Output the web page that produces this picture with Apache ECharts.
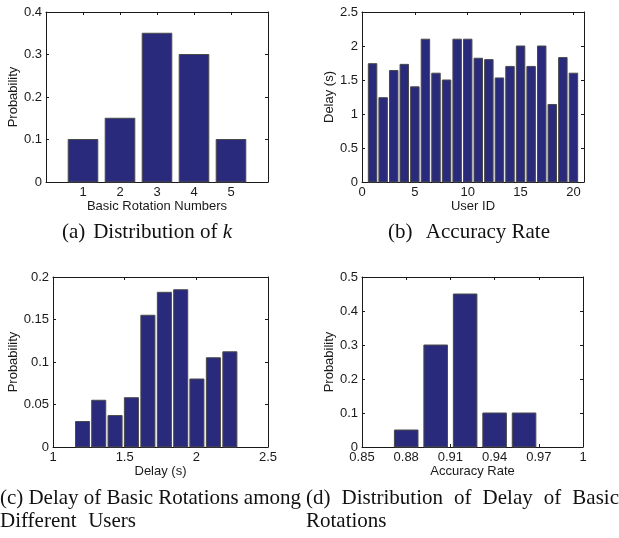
<!DOCTYPE html>
<html>
<head>
<meta charset="utf-8">
<script src="https://cdn.jsdelivr.net/npm/echarts@6/dist/echarts.min.js"></script>
<style>
	html, body { margin: 0; padding: 0; background: #fff; }
	#main { width: 619px; height: 538px; }
</style>
</head>
<body>
<div id="main"></div>
<script>
	// (a) distribution of k
	var rotationNumbers = [1, 2, 3, 4, 5];
	var rotationProb = [0.10, 0.15, 0.35, 0.30, 0.10];
	var rotationTicks = [1, 2, 3, 4, 5];
	// (b) delay per user
	var userIds = [1, 2, 3, 4, 5, 6, 7, 8, 9, 10, 11, 12, 13, 14, 15, 16, 17, 18, 19, 20];
	var userDelay = [1.74, 1.24, 1.64, 1.73, 1.40, 2.10, 1.60, 1.50, 2.10, 2.10,
		1.82, 1.80, 1.53, 1.70, 2.00, 1.70, 2.00, 1.14, 1.83, 1.60];
	var userTicks = [0, 5, 10, 15, 20];
	// (c) delay histogram
	var delayBins = [1.206, 1.319, 1.433, 1.547, 1.662, 1.777, 1.891, 2.004, 2.119, 2.234];
	var delayProb = [0.030, 0.055, 0.037, 0.058, 0.155, 0.182, 0.185, 0.080, 0.105, 0.112];
	// (d) accuracy histogram
	var accuracyBins = [0.88, 0.90, 0.92, 0.94, 0.96];
	var accuracyProb = [0.05, 0.30, 0.45, 0.10, 0.10];
	var accuracyTicks = [0.85, 0.88, 0.91, 0.94, 0.97, 1];

	var axisFont = 'Liberation Sans';
	var capFont = 'Liberation Serif';
	var capSize = 21;
	var ink = '#1a1a1a';
	var barFill = '#2a2a7d';

	function zip(xs, ys) {
		return xs.map(function(x, i) { return [x, ys[i]]; });
	}

	var panels = [
		{ grid: { left: 46, top: 12, width: 222, height: 170 },
		  x: { min: 0, max: 6, ticks: rotationTicks, name: 'Basic Rotation Numbers' },
		  y: { min: 0, max: 0.4, interval: 0.1, name: 'Probability', nameGap: 21 },
		  data: zip(rotationNumbers, rotationProb), barWidth: 0.8 },
		{ grid: { left: 362, top: 12, width: 222, height: 170 },
		  x: { min: 0, max: 21, ticks: userTicks, name: 'User ID' },
		  y: { min: 0, max: 2.5, interval: 0.5, name: 'Delay (s)', nameGap: 21 },
		  data: zip(userIds, userDelay), barWidth: 0.8 },
		{ grid: { left: 53, top: 277, width: 215, height: 170 },
		  x: { min: 1, max: 2.5, interval: 0.5, name: 'Delay (s)' },
		  y: { min: 0, max: 0.2, interval: 0.05, name: 'Probability', nameGap: 28 },
		  data: zip(delayBins, delayProb), barWidth: 0.098 },
		{ grid: { left: 362, top: 277, width: 221, height: 170 },
		  x: { min: 0.85, max: 1, ticks: accuracyTicks, name: 'Accuracy Rate' },
		  y: { min: 0, max: 0.5, interval: 0.1, name: 'Probability', nameGap: 21 },
		  data: zip(accuracyBins, accuracyProb), barWidth: 0.016 }
	];

	function axisOf(cfg, i, pos, mirror) {
		var ax = {
			type: 'value', gridIndex: i, position: pos,
			min: cfg.min, max: cfg.max,
			splitLine: { show: false },
			axisLine: { show: true, onZero: false, lineStyle: { color: ink, width: 1 } },
			axisTick: { show: true, inside: true, length: 3, lineStyle: { color: ink } },
			axisLabel: { show: !mirror, color: ink, fontFamily: axisFont, fontSize: 13, margin: 4 }
		};
		if (cfg.interval) ax.interval = cfg.interval;
		if (cfg.ticks) {
			ax.axisTick.customValues = cfg.ticks;
			ax.axisLabel.customValues = cfg.ticks;
		}
		if (!mirror) {
			ax.name = cfg.name;
			ax.nameLocation = 'middle';
			ax.nameGap = cfg.nameGap || 15;
			ax.nameTextStyle = { color: ink, fontFamily: axisFont, fontSize: 13 };
		}
		return ax;
	}

	function barItem(width) {
		return function(params, api) {
			var x = api.value(0), y = api.value(1);
			var p0 = api.coord([x - width / 2, y]);
			var p1 = api.coord([x + width / 2, 0]);
			return {
				type: 'rect',
				shape: { x: p0[0], y: p0[1], width: p1[0] - p0[0], height: p1[1] - p0[1] },
				style: { fill: barFill, stroke: '#4a4a4a', lineWidth: 1 }
			};
		};
	}

	// captions, justified like the LaTeX source
	var ctx = document.createElement('canvas').getContext('2d');
	function fontOf(w) {
		return (w.italic ? 'italic ' : '') + capSize + 'px "' + capFont + '"';
	}
	function textWidth(t, italic) {
		ctx.font = fontOf({ italic: italic });
		return ctx.measureText(t).width;
	}
	// labelGap: only the gap after "(x)" stretches, the rest keeps normal spaces
	function captionLine(words, left, right, y, labelGap) {
		var widths = words.map(function(w) { return textWidth(w.t, w.italic); });
		var total = widths.reduce(function(a, b) { return a + b; }, 0);
		var n = words.length - 1;
		var space = textWidth(' ', false);
		var gaps = [];
		for (var k = 0; k < n; k++) {
			if (labelGap) gaps.push(k === 0 ? Math.max(space, right - left - total - space * (n - 1)) : space);
			else gaps.push((right - left - total) / n);
		}
		var x = left, out = [];
		words.forEach(function(w, i) {
			out.push({ type: 'text', x: x, y: y,
				style: { text: w.t, font: fontOf(w), fill: '#111', verticalAlign: 'middle' } });
			x += widths[i] + (gaps[i] || 0);
		});
		return out;
	}
	function w(list) {
		return list.split(' ').map(function(t) { return { t: t }; });
	}

	var graphics = [].concat(
		captionLine([{ t: '(a)' }, { t: 'Distribution' }, { t: 'of' }, { t: 'k', italic: true }], 62, 232, 232, true),
		captionLine(w('(b) Accuracy Rate'), 388, 550, 232, true),
		captionLine(w('(c) Delay of Basic Rotations among'), 0, 301, 498),
		captionLine(w('Different Users'), 0, 136, 521, true),
		captionLine(w('(d) Distribution of Delay of Basic'), 306, 619, 498),
		captionLine(w('Rotations'), 306, 400, 521, true)
	);

	var option = {
		animation: false,
		grid: panels.map(function(p) { return p.grid; }),
		xAxis: panels.map(function(p, i) { return axisOf(p.x, i, 'bottom', false); })
			.concat(panels.map(function(p, i) { return axisOf(p.x, i, 'top', true); })),
		yAxis: panels.map(function(p, i) { return axisOf(p.y, i, 'left', false); })
			.concat(panels.map(function(p, i) { return axisOf(p.y, i, 'right', true); })),
		series: panels.map(function(p, i) {
			return { type: 'custom', xAxisIndex: i, yAxisIndex: i, data: p.data,
				renderItem: barItem(p.barWidth), silent: true };
		}),
		graphic: graphics
	};

	var chart = echarts.init(document.getElementById('main'));
	chart.setOption(option);
</script>
</body>
</html>
